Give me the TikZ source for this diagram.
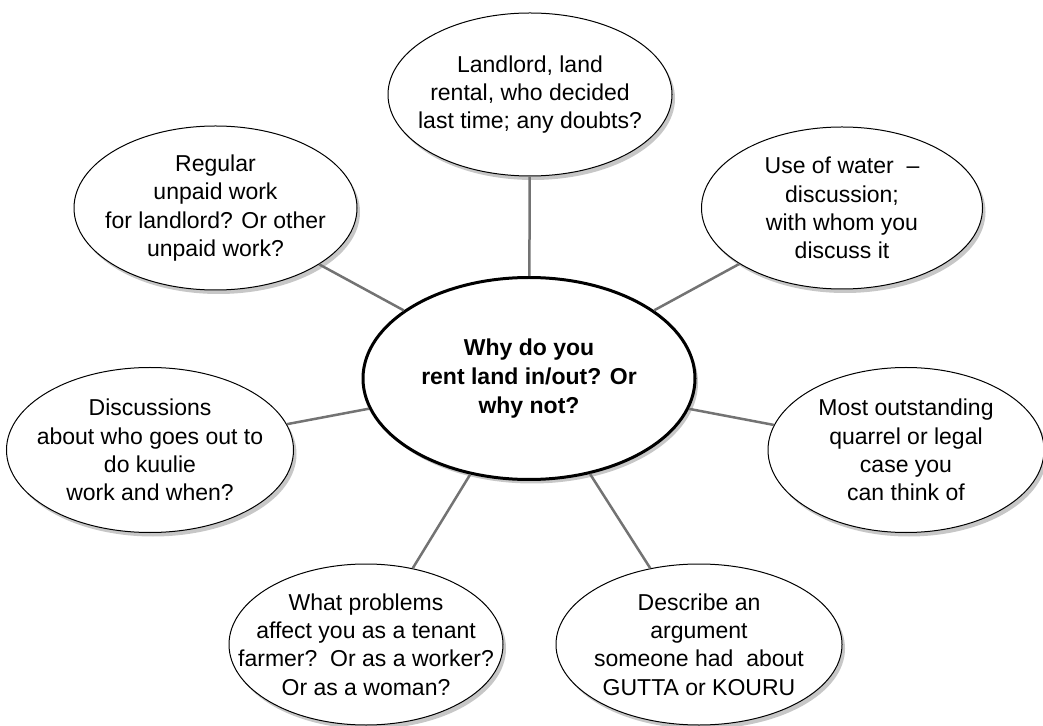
\documentclass[tikz,border=0pt]{standalone}
\usepackage{fontspec}
\setmainfont{Liberation Sans}
\usetikzlibrary{shapes.geometric,shadows}
\tikzset{
  bubble/.style={ellipse, draw, line width=0.5pt, fill=white, inner sep=-30pt, align=center,
                 font=\fontsize{11.5}{14.2}\selectfont,
                 drop shadow={shadow xshift=1.5pt, shadow yshift=-2pt, fill=black!22, opacity=1}},
  hub/.style={bubble, line width=1.5pt, font=\bfseries\fontsize{11.5}{14.5}\selectfont},
  link/.style={draw=black!55, line width=1.25pt}
}

\begin{document}
\begin{tikzpicture}[x=0.5pt,y=-0.5pt]
  \useasboundingbox (0,0) rectangle (1043,726);
  \node[hub,    minimum width=166pt,   minimum height=101pt ] (centre)   at (529,378.5) {Why do you\\rent land in/out? Or\\why not?};
  \node[bubble, minimum width=142pt,   minimum height=81.5pt] (landlord) at (530, 94.5) {Landlord, land\\rental, who decided\\last time; any doubts?};
  \node[bubble, minimum width=141.5pt, minimum height=82pt  ] (unpaid)   at (215.5,208) {Regular\\unpaid work\\for landlord? Or other\\unpaid work?};
  \node[bubble, minimum width=140.5pt, minimum height=81pt  ] (water)    at (842,208)   {Use of water\ \ –\\discussion;\\with whom you\\discuss it};
  \node[bubble, minimum width=138pt,   minimum height=82.5pt] (quarrel)  at (906,450)   {Most outstanding\\quarrel or legal\\case you\\can think of};
  \node[bubble, minimum width=143.5pt, minimum height=82.5pt] (kuulie)   at (150,450)   {Discussions\\about who goes out to\\do kuulie\\work and when?};
  \node[bubble, minimum width=137pt,   minimum height=80.5pt] (tenant)   at (366,644.5) {What problems\\affect you as a tenant\\farmer?\ \ Or as a worker?\\Or as a woman?};
  \node[bubble, minimum width=143pt,   minimum height=80.5pt] (argument) at (699,644.5) {Describe an\\argument\\someone had\ \ about\\GUTTA or KOURU};
  \draw[link] (centre) -- (landlord);
  \draw[link] (centre) -- (unpaid);
  \draw[link] (centre) -- (water);
  \draw[link] (centre) -- (quarrel);
  \draw[link] (centre) -- (kuulie);
  \draw[link] (centre) -- (tenant);
  \draw[link] (centre) -- (argument);
\end{tikzpicture}
\end{document}
